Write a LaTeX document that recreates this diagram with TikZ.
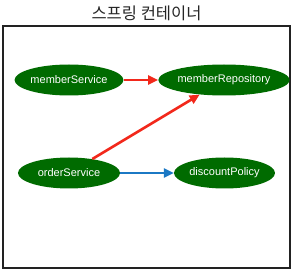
\documentclass[tikz,border=0pt]{standalone}
\usepackage{fontspec}
\setmainfont{Liberation Sans}
\newfontfamily\kofont{Noto Sans CJK KR}
\usetikzlibrary{arrows.meta,positioning,shapes.geometric}
\definecolor{BeanGreen}{HTML}{006B00}
\definecolor{DepRed}{HTML}{F2281B}
\definecolor{DepBlue}{HTML}{1B78C4}
\definecolor{FrameGray}{HTML}{222222}

\tikzset{
  bean/.style={ellipse,fill=BeanGreen,text=white,inner sep=0pt,minimum height=31pt,font=\fontsize{11}{13}\selectfont},
  dep/.style={line width=2.6pt,-{Triangle[length=10pt,width=9pt]}}
}

\begin{document}
\begin{tikzpicture}[x=1pt,y=-1pt]
        \useasboundingbox (0,0) rectangle (293,273);
        \node[draw=FrameGray,line width=2pt,minimum width=287pt,minimum height=242pt,inner sep=0pt] (container) at (146.5,147) {};
        \node[font=\kofont\fontsize{16.5}{18}\selectfont,text=black!85] (title) at (146.5,13) {스프링 컨테이너};
        \node[bean,minimum width=102pt] (memberService) at (69,80) {memberService};
        \node[bean,minimum width=122pt] (memberRepository) at (224,80) {memberRepository};
        \node[bean,minimum width=102pt] (orderService) at (69,173) {orderService};
        \node[bean,minimum width=101pt] (discountPolicy) at (224.5,173) {discountPolicy};
        \draw[dep,DepRed] (memberService) -- (memberRepository);
        \draw[dep,DepRed] (orderService) -- (memberRepository);
        \draw[dep,DepBlue] (orderService) -- (discountPolicy);
      \end{tikzpicture}
\end{document}
